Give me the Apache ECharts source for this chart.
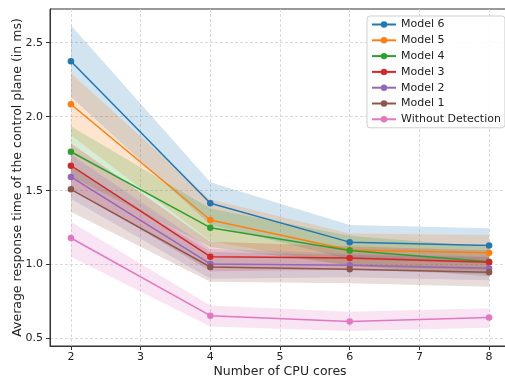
<!DOCTYPE html>
<html>
<head>
<meta charset="utf-8">
<script src="https://cdn.jsdelivr.net/npm/echarts@6/dist/echarts.min.js"></script>
<style>
  html, body { margin: 0; padding: 0; background: #fff; }
  #chart { width: 505px; height: 377px; }
</style>
</head>
<body>
<div id="chart"></div>
<script>
// x positions (CPU cores)
const cores = [2, 4, 6, 8];
const xTicks = [2, 3, 4, 5, 6, 7, 8];
const yTicks = [0.5, 1.0, 1.5, 2.0, 2.5];

const names = ['Model 6', 'Model 5', 'Model 4', 'Model 3', 'Model 2', 'Model 1', 'Without Detection'];
const colors = ['#1f77b4', '#ff7f0e', '#2ca02c', '#d62728', '#9467bd', '#8c564b', '#e377c2'];

// mean response time per model (ms)
const model6 = [2.375, 1.415, 1.152, 1.130];
const model5 = [2.084, 1.302, 1.099, 1.081];
const model4 = [1.763, 1.250, 1.095, 1.020];
const model3 = [1.669, 1.054, 1.045, 1.016];
const model2 = [1.593, 1.005, 0.996, 0.976];
const model1 = [1.509, 0.984, 0.969, 0.949];
const noDetect = [1.180, 0.655, 0.615, 0.642];

// shaded band, lower and upper edge
const model6Lo = [2.135, 1.270, 1.037, 1.010];
const model6Hi = [2.618, 1.557, 1.268, 1.246];
const model5Lo = [1.875, 1.160, 0.990, 0.960];
const model5Hi = [2.293, 1.440, 1.210, 1.200];
const model4Lo = [1.595, 1.120, 0.995, 0.920];
const model4Hi = [1.935, 1.380, 1.195, 1.120];
const model3Lo = [1.520, 0.955, 0.965, 0.935];
const model3Hi = [1.820, 1.155, 1.125, 1.095];
const model2Lo = [1.445, 0.905, 0.915, 0.895];
const model2Hi = [1.745, 1.105, 1.075, 1.055];
const model1Lo = [1.358, 0.885, 0.874, 0.851];
const model1Hi = [1.660, 1.085, 1.065, 1.050];
const noDetectLo = [1.054, 0.581, 0.552, 0.574];
const noDetectHi = [1.290, 0.723, 0.682, 0.705];

const means = [model6, model5, model4, model3, model2, model1, noDetect];
const lows = [model6Lo, model5Lo, model4Lo, model3Lo, model2Lo, model1Lo, noDetectLo];
const highs = [model6Hi, model5Hi, model4Hi, model3Hi, model2Hi, model1Hi, noDetectHi];

const font = 'DejaVu Sans';

function bandSeries(i) {
  const lo = lows[i], hi = highs[i];
  return {
    type: 'custom',
    name: 'band ' + i,
    silent: true,
    z: 1,
    data: [[cores[0], lo[0]]],
    renderItem: function (params, api) {
      const pts = [];
      for (let k = 0; k < cores.length; k++) pts.push(api.coord([cores[k], hi[k]]));
      for (let k = cores.length - 1; k >= 0; k--) pts.push(api.coord([cores[k], lo[k]]));
      return {
        type: 'polygon',
        shape: { points: pts },
        style: { fill: colors[i], opacity: 0.2 }
      };
    }
  };
}

function lineSeries(i) {
  return {
    type: 'line',
    name: names[i],
    z: 3,
    data: cores.map((c, k) => [c, means[i][k]]),
    symbol: 'circle',
    symbolSize: 6.5,
    showSymbol: true,
    itemStyle: { color: colors[i] },
    lineStyle: { color: colors[i], width: 1.5 },
    emphasis: { disabled: true },
    animation: false
  };
}

const series = [];
names.forEach((n, i) => series.push(bandSeries(i)));
names.forEach((n, i) => series.push(lineSeries(i)));

const gridLine = { show: true, lineStyle: { color: '#d0d0d0', type: [3, 2], width: 0.8 } };

const chart = echarts.init(document.getElementById('chart'), null, { renderer: 'canvas' });
chart.setOption({
  animation: false,
  backgroundColor: '#fff',
  grid: {
    left: 50, right: -5, top: 9, bottom: 31,
    outerBoundsMode: 'none', containLabel: false,
    show: true, borderColor: '#333', borderWidth: 1
  },
  legend: {
    data: names,
    orient: 'vertical',
    left: 367,
    top: 16,
    padding: [3, 4, 3, 4],
    itemWidth: 24,
    itemHeight: 8,
    itemGap: 4.8,
    backgroundColor: 'rgba(255,255,255,0.85)',
    borderColor: '#d0d0d0',
    borderWidth: 1,
    borderRadius: 3,
    textStyle: { fontFamily: font, fontSize: 11, color: '#222' }
  },
  xAxis: {
    type: 'value',
    min: 1.7,
    max: 8.3,
    name: 'Number of CPU cores',
    nameLocation: 'middle',
    nameGap: 19,
    nameMoveOverlap: false,
    nameTextStyle: { fontFamily: font, fontSize: 12.5, color: '#222' },
    axisLine: { show: true, lineStyle: { color: '#333', width: 1 } },
    axisTick: { show: true, length: 4, lineStyle: { color: '#333' }, customValues: xTicks },
    axisLabel: { fontFamily: font, fontSize: 11, color: '#222', margin: 6, customValues: xTicks },
    splitLine: gridLine
  },
  yAxis: {
    type: 'value',
    min: 0.45,
    max: 2.728,
    name: 'Average response time of the control plane (in ms)',
    nameLocation: 'middle',
    nameGap: 26,
    nameMoveOverlap: false,
    nameTextStyle: { fontFamily: font, fontSize: 12.5, color: '#222' },
    axisLine: { show: true, lineStyle: { color: '#333', width: 1 } },
    axisTick: { show: true, length: 4, lineStyle: { color: '#333' }, customValues: yTicks },
    axisLabel: {
      fontFamily: font, fontSize: 11, color: '#222', margin: 7,
      customValues: yTicks,
      formatter: v => v.toFixed(1)
    },
    splitLine: gridLine
  },
  series: series
});
</script>
</body>
</html>
